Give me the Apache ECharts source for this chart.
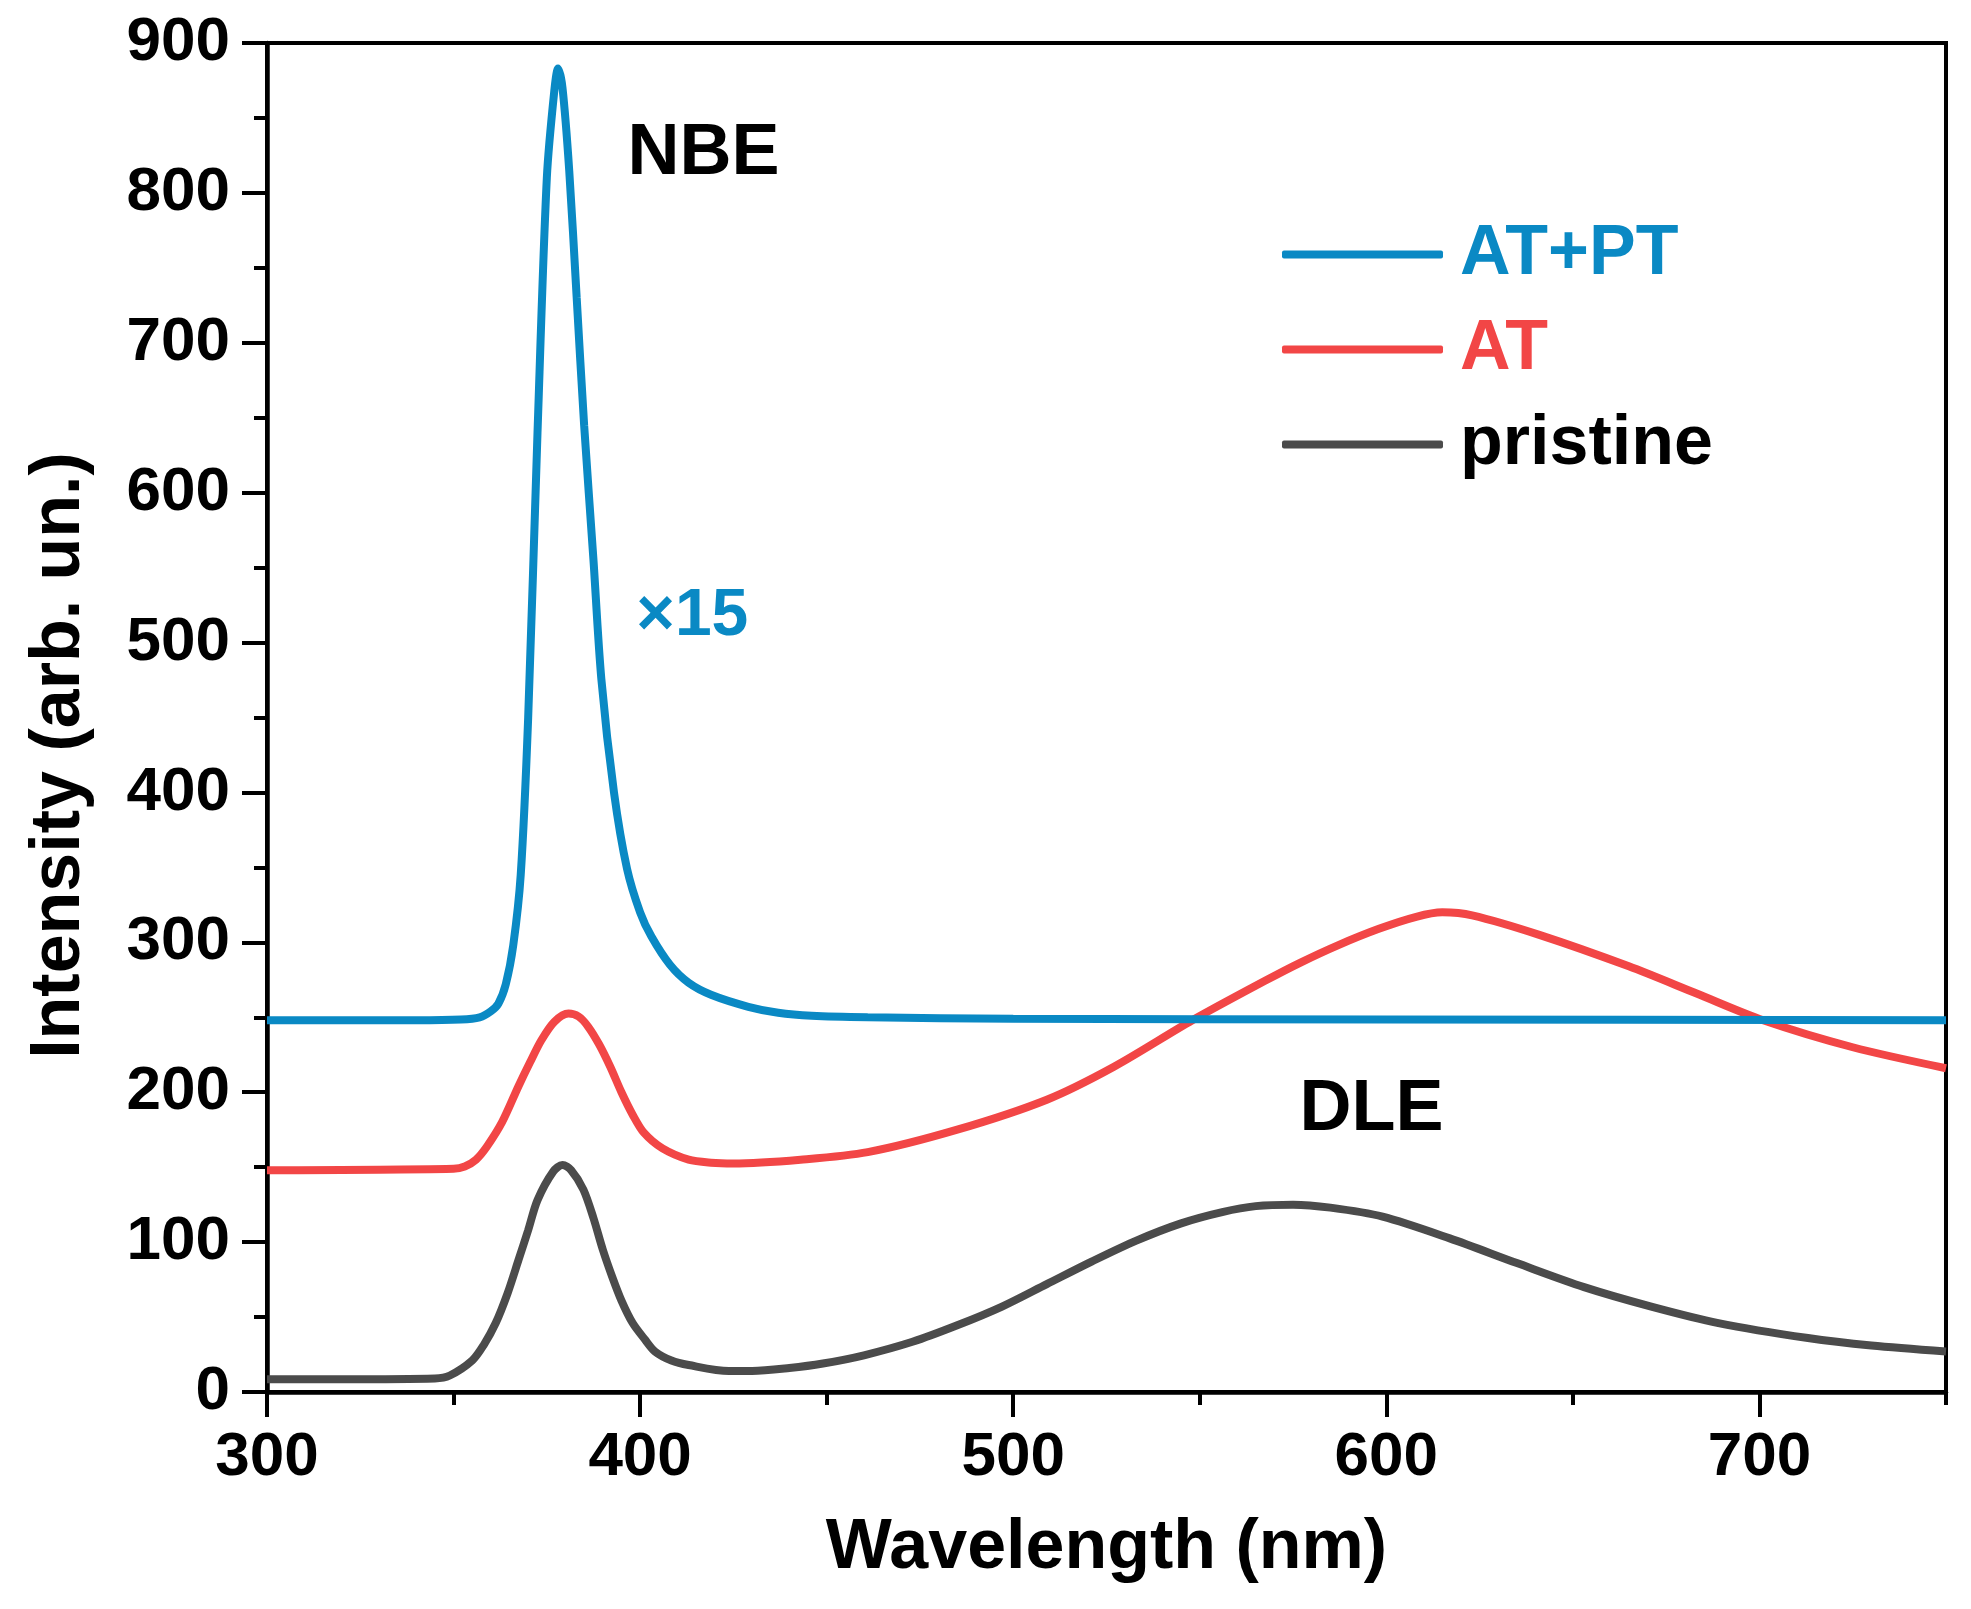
<!DOCTYPE html>
<html>
<head>
<meta charset="utf-8">
<title>PL spectra</title>
<script src="https://cdn.jsdelivr.net/npm/echarts@6/dist/echarts.min.js"></script>
<style>
html,body{margin:0;padding:0;background:#fff;}
#main{width:1971px;height:1609px;}
</style>
</head>
<body>
<div id="main"></div>
<script>
// AT+PT (x15)
var atptWave = [300, 340, 352, 357, 360, 362, 364, 366, 368, 370, 372.5, 375, 377, 378, 379.2, 381, 383, 385, 387.5, 389.6, 393, 396.5, 400, 403, 408, 413, 419, 429, 437, 446, 461, 500, 600, 750];
var atptVal = [248, 248, 248.5, 250, 254, 259, 272, 298, 345, 450, 640, 810, 868, 883, 870, 815, 730, 645, 555, 476, 400, 349, 320, 304, 285, 273, 265, 257, 253, 251, 250, 249, 248.5, 248];

// AT
var atWave = [300, 350, 353, 356, 359, 363, 367.4, 370.5, 373.6, 377, 380.8, 383.5, 386, 389, 392, 395, 398, 401, 406, 413, 419, 425, 443, 461, 485, 509, 527, 548, 568, 577, 587, 598, 608, 615, 623, 641, 665, 683, 701, 725, 750];
var atVal = [148, 149, 150.5, 155, 164, 180, 204, 220, 235, 247, 252.5, 250.5, 244, 232, 217, 200, 185, 173, 162.5, 155, 153, 152.5, 155, 160, 175, 195, 217, 248, 275, 286.5, 298, 309, 317, 320, 318, 305, 284, 266, 248, 230, 216];

// pristine
var pristineWave = [300, 320, 345, 349, 355, 358, 361.3, 364.5, 367.4, 370, 372.5, 376.7, 379.2, 381.5, 384.8, 387.5, 390, 392.5, 395, 398, 401.3, 404, 408.4, 413, 423.8, 430, 440, 449, 460, 473, 485, 497, 509, 521, 533, 545, 556, 565, 575, 585, 599, 617, 635, 653, 671, 689, 713, 730, 750];
var pristineVal = [8.5, 8.5, 9, 11, 21, 31, 46, 66, 88, 108, 128, 147, 151.5, 148, 135, 116, 95, 77, 61, 46, 35, 27, 21, 18, 14, 14, 16, 19, 24.5, 33.5, 44.5, 57, 72, 87, 101, 112.5, 120, 124, 125, 123, 117, 102.5, 86, 70, 57, 46, 36, 31, 27];

// 刻度
var xMajorTicks = [300, 400, 500, 600, 700];
var xMinorTicks = [350, 450, 550, 650, 750];

var blue = '#0a89c4';
var red = '#f24646';
var grey = '#4b4b4b';
var font = "'Liberation Sans', Arial, Helvetica, sans-serif";

function pairs(xs, ys) {
	var out = [];
	for (var i = 0; i < xs.length; i++) {
		out.push([xs[i], ys[i]]);
	}
	return out;
}

var myChart = echarts.init(document.getElementById('main'));

var option = {
	animation: false,
	backgroundColor: '#fff',
	grid: {
		left: 267, right: 25, top: 43, bottom: 217,
		show: true, borderColor: '#000', borderWidth: 4
	},
	legend: {
		orient: 'vertical',
		left: 1277,
		top: 212,
		icon: 'roundRect',
		itemWidth: 161,
		itemHeight: 8,
		itemGap: 20,
		selectedMode: false,
		textStyle: {
			fontFamily: font, fontWeight: 'bold', fontSize: 70, lineHeight: 75,
			padding: [0, 0, 0, 12]
		},
		data: [
			{name: 'AT+PT', textStyle: {color: blue}},
			{name: 'AT', textStyle: {color: red}},
			{name: 'pristine', textStyle: {color: '#000'}}
		]
	},
	xAxis: [
		{
			type: 'value',
			position: 'bottom',
			min: 300, max: 750, interval: 100,
			name: 'Wavelength (nm)',
			nameLocation: 'middle',
			nameGap: 122,
			nameTextStyle: {fontFamily: font, fontWeight: 'bold', fontSize: 70, color: '#000'},
			axisLine: {onZero: false, lineStyle: {color: '#000', width: 4.5}},
			axisTick: {length: 25, lineStyle: {width: 4, color: '#000'}, customValues: xMajorTicks},
			axisLabel: {
				margin: 35, fontFamily: font, fontWeight: 'bold', fontSize: 62, color: '#000',
				customValues: xMajorTicks
			},
			splitLine: {show: false}
		},
		{
			// 次刻度
			type: 'value',
			position: 'bottom',
			min: 300, max: 750, interval: 50,
			axisLine: {show: false},
			axisTick: {length: 13, lineStyle: {width: 4, color: '#000'}, customValues: xMinorTicks},
			axisLabel: {show: false},
			splitLine: {show: false}
		}
	],
	yAxis: {
		type: 'value',
		min: 0, max: 900, interval: 100,
		name: 'Intensity (arb. un.)',
		nameLocation: 'middle',
		nameGap: 172,
		nameTextStyle: {fontFamily: font, fontWeight: 'bold', fontSize: 70, color: '#000', padding: [0, 76, 0, 0]},
		axisLine: {lineStyle: {color: '#000', width: 4.5}},
		axisTick: {length: 25, lineStyle: {width: 4, color: '#000'}},
		minorTick: {show: true, splitNumber: 2, length: 13, lineStyle: {width: 4, color: '#000'}},
		axisLabel: {margin: 37, fontFamily: font, fontWeight: 'bold', fontSize: 62, color: '#000'},
		splitLine: {show: false},
		minorSplitLine: {show: false}
	},
	series: [
		{
			name: 'pristine', type: 'line', xAxisIndex: 0, showSymbol: false, smooth: 0.3,
			color: grey, lineStyle: {width: 8, color: grey},
			data: pairs(pristineWave, pristineVal)
		},
		{
			name: 'AT', type: 'line', xAxisIndex: 0, showSymbol: false, smooth: 0.3,
			color: red, lineStyle: {width: 8, color: red},
			data: pairs(atWave, atVal)
		},
		{
			name: 'AT+PT', type: 'line', xAxisIndex: 0, showSymbol: false, smooth: 0.3,
			color: blue, lineStyle: {width: 8, color: blue},
			data: pairs(atptWave, atptVal)
		}
	]
};

myChart.setOption(option);

// 标注文字，按数据坐标定位
var notes = [
	{text: 'NBE', at: [417, 826], color: '#000', size: 72},
	{text: '\u00d715', at: [414, 517], color: blue, size: 66},
	{text: 'DLE', at: [596, 188], color: '#000', size: 72}
];
var graphics = [];
for (var i = 0; i < notes.length; i++) {
	var p = myChart.convertToPixel({xAxisIndex: 0, yAxisIndex: 0}, notes[i].at);
	graphics.push({
		type: 'text',
		x: p[0], y: p[1],
		style: {
			text: notes[i].text,
			fill: notes[i].color,
			font: 'bold ' + notes[i].size + 'px ' + font,
			textAlign: 'center',
			textVerticalAlign: 'middle'
		}
	});
}
myChart.setOption({graphic: graphics});
</script>
</body>
</html>
